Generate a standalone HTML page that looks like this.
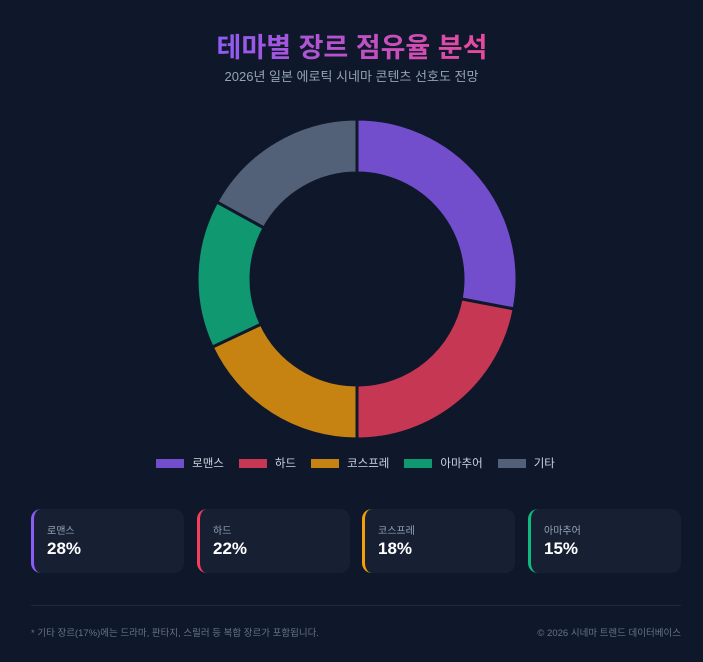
<!DOCTYPE html>
<html><head><meta charset="utf-8"><style>
*{margin:0;padding:0;box-sizing:border-box}
body{width:703px;height:662px;background:#0f172a;font-family:"Liberation Sans","Noto Sans CJK KR",sans-serif;overflow:hidden;position:relative}
.t{position:absolute;top:26px;text-align:center;font-size:27px;font-weight:bold;background:linear-gradient(90deg,#8b5cf6,#ec4899);-webkit-background-clip:text;background-clip:text;color:transparent;width:290px;left:207px;}
.s{position:absolute;top:66px;width:703px;text-align:center;font-size:13px;color:#94a3b8}
.lg{position:absolute;top:455px;width:703px;display:flex;justify-content:center;gap:15px;font-size:11.5px;color:#cbd5e1;padding-left:8px}
.lg span{display:flex;align-items:center}
.lg i{display:inline-block;width:28px;height:9px;margin-right:8px}
.c{position:absolute;top:509px;width:153px;height:64px;background:#172033;border-radius:10px;border-left:3px solid}
.c .a{position:absolute;left:13px;top:13px;font-size:10px;color:#94a3b8}
.c .b{position:absolute;left:13px;top:30px;font-size:17px;font-weight:bold;color:#fff}
.hr{position:absolute;top:605px;left:31px;width:650px;height:1px;background:#1e293b}
.f{position:absolute;top:625px;font-size:9.5px;color:#64748b}
</style></head><body>
<div class="t">테마별 장르 점유율 분석</div>
<div class="s">2026년 일본 에로틱 시네마 콘텐츠 선호도 전망</div>
<svg style="position:absolute;left:0;top:0" width="703" height="662">
<g fill-rule="evenodd" stroke="#0f172a" stroke-width="3" id="d"></g>
</svg>
<div class="lg">
<span><i style="background:#724ecd"></i>로맨스</span>
<span><i style="background:#c63754"></i>하드</span>
<span><i style="background:#c78311"></i>코스프레</span>
<span><i style="background:#109970"></i>아마추어</span>
<span><i style="background:#536178"></i>기타</span>
</div>
<div class="c" style="left:31px;border-color:#8b5cf6"><div class="a">로맨스</div><div class="b">28%</div></div>
<div class="c" style="left:197px;border-color:#f43f5e"><div class="a">하드</div><div class="b">22%</div></div>
<div class="c" style="left:362px;border-color:#f59e0b"><div class="a">코스프레</div><div class="b">18%</div></div>
<div class="c" style="left:528px;border-color:#10b981"><div class="a">아마추어</div><div class="b">15%</div></div>
<div class="hr"></div>
<div class="f" style="left:31px">* 기타 장르(17%)에는 드라마, 판타지, 스릴러 등 복합 장르가 포함됩니다.</div>
<div class="f" style="right:22px">© 2026 시네마 트렌드 데이터베이스</div>
<script>
var cx=357,cy=279,R=160,r=106,v=[28,22,18,15,17],col=["#724ecd","#c63754","#c78311","#109970","#536178"],a=0,g=document.getElementById('d'),h='';
function p(rad,t){var an=t/100*2*Math.PI-Math.PI/2;return (cx+rad*Math.cos(an)).toFixed(2)+' '+(cy+rad*Math.sin(an)).toFixed(2);}
v.forEach(function(x,i){var b=a+x,l=x>50?1:0;h+='<path fill="'+col[i]+'" d="M'+p(R,a)+' A'+R+' '+R+' 0 '+l+' 1 '+p(R,b)+' L'+p(r,b)+' A'+r+' '+r+' 0 '+l+' 0 '+p(r,a)+' Z"/>';a=b;});
g.innerHTML=h;
</script>
</body></html>
